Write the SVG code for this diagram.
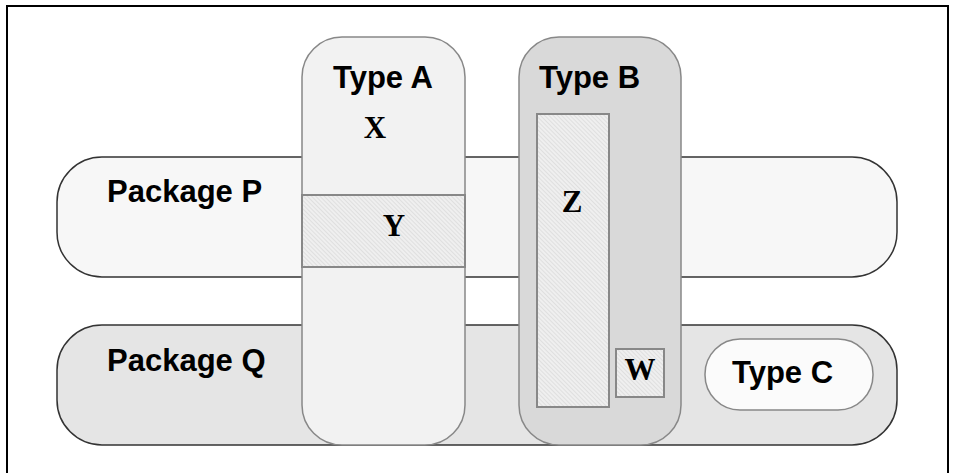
<svg xmlns="http://www.w3.org/2000/svg" width="956" height="473" viewBox="0 0 956 473">
  <defs>
    <pattern id="hatch" patternUnits="userSpaceOnUse" width="3" height="3" patternTransform="rotate(-45)">
      <rect width="3" height="3" fill="#efefef"/>
      <line x1="0" y1="0" x2="0" y2="3" stroke="#cfcfcf" stroke-width="1"/>
    </pattern>
    <style>
      .pkg { stroke: #333; stroke-width: 1.5; }
      .type { stroke: #888; stroke-width: 1.5; }
      .part { fill: url(#hatch); stroke: #888; stroke-width: 2; }
      .sans { font-family: "Liberation Sans", Arial, sans-serif; font-weight: bold; font-size: 31px; fill: #000; }
      .serif { font-family: "Liberation Serif", "Times New Roman", serif; font-weight: bold; font-size: 31px; fill: #000; text-anchor: middle; }
    </style>
  </defs>
  <rect x="0" y="0" width="956" height="473" fill="#fff"/>
  <rect id="frame" x="7" y="6" width="941" height="480" fill="none" stroke="#000" stroke-width="2"/>

  <g id="packageP">
    <rect class="pkg" x="57" y="157" width="840" height="120" rx="45" ry="45" fill="#f7f7f7"/>
    <text class="sans" x="107" y="202">Package P</text>
  </g>
  <g id="packageQ">
    <rect class="pkg" x="57" y="325" width="840" height="120" rx="45" ry="45" fill="#e5e5e5"/>
    <text class="sans" x="107" y="371">Package Q</text>
  </g>

  <g id="typeA">
    <rect class="type" x="302" y="37" width="163" height="408" rx="40" ry="40" fill="#f2f2f2"/>
    <text class="sans" x="333" y="88">Type A</text>
  </g>
  <g id="typeB">
    <rect class="type" x="519" y="37" width="162" height="408" rx="40" ry="40" fill="#d9d9d9"/>
    <text class="sans" x="539" y="88">Type B</text>
  </g>
  <g id="typeC">
    <rect class="type" x="705" y="339" width="168" height="71" rx="35" ry="35" fill="#fbfbfb"/>
    <text class="sans" x="732" y="383">Type C</text>
  </g>

  <g id="X">
    <text class="serif" x="375" y="138">X</text>
  </g>
  <g id="Y">
    <rect class="part" x="302" y="195" width="163" height="72"/>
    <text class="serif" x="394" y="236">Y</text>
  </g>
  <g id="Z">
    <rect class="part" x="537" y="114" width="72" height="293"/>
    <text class="serif" x="572" y="212">Z</text>
  </g>
  <g id="W">
    <rect class="part" x="616" y="349" width="48" height="48"/>
    <text class="serif" x="640" y="380">W</text>
  </g>
  <g id="connectors"/>
</svg>
